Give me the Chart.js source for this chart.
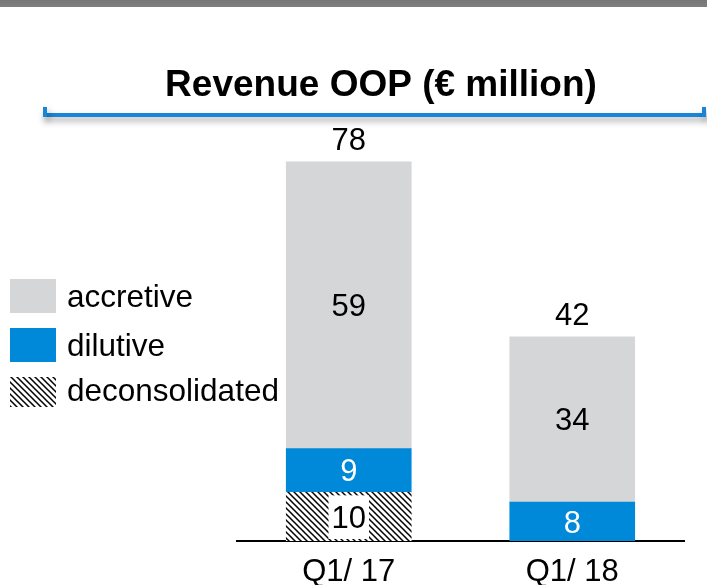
<!DOCTYPE html>
<html>
<head>
<meta charset="utf-8">
<script src="https://cdn.jsdelivr.net/npm/chart.js@4.4.1/dist/chart.umd.min.js"></script>
<style>
  html, body { margin: 0; padding: 0; background: #ffffff; overflow: hidden; }
  canvas { display: block; }
</style>
</head>
<body>
<canvas id="c" width="707" height="585" style="width:707px;height:585px"></canvas>
<script>
// ---- data ----
const categories = ['Q1/ 17', 'Q1/ 18'];
const deconsolidated = [10, null];
const dilutive = [9, 8];
const accretive = [59, 34];
const totals = [78, 42];
const seriesNames = ['accretive', 'dilutive', 'deconsolidated'];
const titleText = 'Revenue OOP (\u20AC million)';

// ---- styles ----
const FONT = '"Liberation Sans", Arial, sans-serif';
const GREY = '#d5d6d8';
const BLUE = '#0089d8';

function makeHatch() {
  const s = 6;
  const p = document.createElement('canvas');
  p.width = s; p.height = s;
  const g = p.getContext('2d');
  g.fillStyle = '#ffffff';
  g.fillRect(0, 0, s, s);
  g.strokeStyle = '#000000';
  g.lineWidth = 1.5;
  g.beginPath();
  g.moveTo(-1, -1); g.lineTo(s + 1, s + 1);
  g.moveTo(-1, s - 1); g.lineTo(1, s + 1);
  g.moveTo(s - 1, -1); g.lineTo(s + 1, 1);
  g.stroke();
  return document.getElementById('c').getContext('2d').createPattern(p, 'repeat');
}
const HATCH = makeHatch();

const decoPlugin = {
  id: 'deco',
  beforeDraw(chart) {
    const ctx = chart.ctx;
    ctx.save();
    ctx.fillStyle = '#ffffff';
    ctx.fillRect(0, 0, chart.width, chart.height);
    // top band
    const gr = ctx.createLinearGradient(0, 0, 0, 8);
    gr.addColorStop(0, '#767676');
    gr.addColorStop(1, '#808080');
    ctx.fillStyle = gr;
    ctx.fillRect(0, 0, chart.width, 7);
    // bracket under title with shadow
    ctx.shadowColor = 'rgba(0,0,0,0.35)';
    ctx.shadowBlur = 6;
    ctx.shadowOffsetX = 2;
    ctx.shadowOffsetY = 4;
    ctx.fillStyle = '#1a85d6';
    ctx.fillRect(43, 113, 663, 4);
    ctx.fillRect(43, 107, 4, 10);
    ctx.fillRect(702, 107, 4, 10);
    ctx.restore();

    // title
    ctx.save();
    ctx.fillStyle = '#000000';
    ctx.font = 'bold 37px ' + FONT;
    ctx.textAlign = 'center';
    ctx.textBaseline = 'alphabetic';
    ctx.fillText(titleText, 381, 96);
    ctx.restore();

    // legend
    ctx.save();
    const fills = [GREY, BLUE, HATCH];
    const boxes = [[279, 34], [328, 34], [377, 30]];
    ctx.font = '31.5px ' + FONT;
    ctx.textBaseline = 'alphabetic';
    ctx.textAlign = 'left';
    for (let i = 0; i < 3; i++) {
      ctx.fillStyle = fills[i];
      ctx.fillRect(10, boxes[i][0], 46, boxes[i][1]);
      ctx.fillStyle = '#000000';
      ctx.fillText(seriesNames[i], 67, boxes[i][0] + boxes[i][1] - 6);
    }
    ctx.restore();
  },
  afterDatasetsDraw(chart) {
    const ctx = chart.ctx;
    ctx.save();
    ctx.font = '31px ' + FONT;
    ctx.textAlign = 'center';
    ctx.textBaseline = 'alphabetic';
    chart.data.datasets.forEach((ds, di) => {
      const meta = chart.getDatasetMeta(di);
      meta.data.forEach((bar, i) => {
        const v = ds.data[i];
        if (v === null || v === undefined) return;
        const top = Math.min(bar.y, bar.base);
        const bot = Math.max(bar.y, bar.base);
        const cy = (top + bot) / 2;
        const txt = String(v);
        if (ds.hatched) {
          const w = ctx.measureText(txt).width + 6;
          ctx.fillStyle = '#ffffff';
          ctx.fillRect(bar.x - w / 2, top + 3, w, bot - top - 5);
        }
        ctx.fillStyle = ds.labelColor;
        ctx.fillText(txt, bar.x, cy + 11);
      });
    });
    // totals
    const lastMeta = chart.getDatasetMeta(chart.data.datasets.length - 1);
    lastMeta.data.forEach((bar, i) => {
      ctx.fillStyle = '#000000';
      ctx.fillText(String(totals[i]), bar.x, bar.y - 11.5);
    });
    ctx.restore();
  }
};

new Chart(document.getElementById('c'), {
  type: 'bar',
  data: {
    labels: categories,
    datasets: [
      { label: 'deconsolidated', data: deconsolidated, backgroundColor: HATCH, labelColor: '#000000', hatched: true, barThickness: 125 },
      { label: 'dilutive', data: dilutive, backgroundColor: BLUE, labelColor: '#ffffff', barThickness: 125 },
      { label: 'accretive', data: accretive, backgroundColor: GREY, labelColor: '#000000', barThickness: 125 }
    ]
  },
  options: {
    responsive: false,
    maintainAspectRatio: false,
    animation: false,
    devicePixelRatio: 1,
    layout: { padding: { left: 237, right: 23, top: 152, bottom: 0 } },
    plugins: { legend: { display: false }, title: { display: false }, tooltip: { enabled: false } },
    scales: {
      x: {
        stacked: true,
        grid: { display: false, drawTicks: false },
        border: { display: true, color: '#000000', width: 2 },
        ticks: { color: '#000000', font: { family: FONT, size: 31, lineHeight: 0.93 }, padding: 17 },
        afterFit: (scale) => { scale.height = 44; }
      },
      y: {
        stacked: true,
        display: false,
        min: 0,
        max: 80
      }
    }
  },
  plugins: [decoPlugin]
});
</script>
</body>
</html>
